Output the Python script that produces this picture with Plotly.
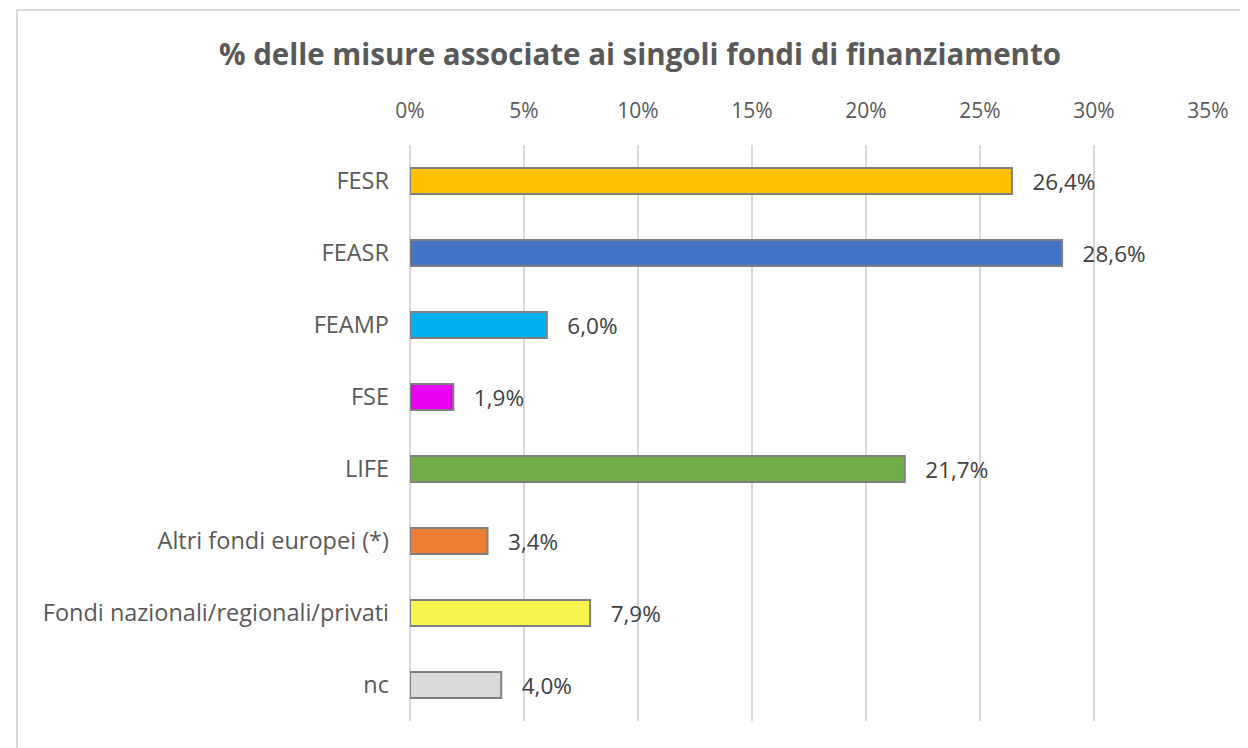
import plotly.graph_objects as go

categories = ["FESR", "FEASR", "FEAMP", "FSE", "LIFE", "Altri fondi europei (*)",
              "Fondi nazionali/regionali/privati", "nc"]
values = [0.264, 0.286, 0.060, 0.019, 0.217, 0.034, 0.079, 0.040]
colors = ["#FFC000", "#4472C4", "#00B0F0", "#E800F0", "#70AD47", "#ED7D31", "#F4F44C", "#D9D9D9"]
tick_vals = [0, 0.05, 0.10, 0.15, 0.20, 0.25, 0.30, 0.35]
tick_text = ["0%", "5%", "10%", "15%", "20%", "25%", "30%", "35%"]

labels = ["\u00a0\u00a0\u00a0" + f"{v*100:.1f}%".replace(".", ",") for v in values]

FONT = "'Open Sans', Lato, sans-serif"
GRAY = "#595959"

fig = go.Figure(go.Bar(
    x=values, y=categories, orientation="h",
    marker=dict(color=colors, line=dict(color="#7F7F7F", width=2)),
    text=labels, textposition="outside", cliponaxis=False, constraintext="none",
    textfont=dict(family=FONT, size=22.5, color="#404040"),
    width=0.36,
))

W, H = 1248, 748
L, R, T, B = 402, 48, 137, 35
pw, ph = W - L - R, H - T - B

fig.update_layout(
    width=W, height=H,
    margin=dict(l=L, r=R, t=T, b=B),
    paper_bgcolor="white", plot_bgcolor="white",
    showlegend=False,
    title=dict(text="<b>% delle misure associate ai singoli fondi di finanziamento</b>",
               x=632 / W, xanchor="center", y=1 - 47 / H, yanchor="middle",
               font=dict(family=FONT, size=29.5, color=GRAY)),
    xaxis=dict(side="top", range=[0, 0.35], tickvals=tick_vals, ticktext=tick_text,
               showgrid=True, gridcolor="#D9D9D9", gridwidth=1.5,
               zeroline=True, zerolinecolor="#D9D9D9", zerolinewidth=1.5,
               showline=False, ticks="", ticklabelstandoff=22,
               tickfont=dict(family=FONT, size=21, color=GRAY)),
    yaxis=dict(autorange="reversed", showgrid=False, zeroline=False, showline=False,
               ticks="", ticklabelstandoff=20,
               tickfont=dict(family=FONT, size=23.5, color=GRAY)),
    shapes=[dict(type="rect", xref="paper", yref="paper",
                 x0=(9 - L) / pw, x1=(W + 5 - L) / pw,
                 y0=(H - B - (H + 5)) / ph, y1=(H - B - 2) / ph,
                 line=dict(color="#D9D9D9", width=2), fillcolor="rgba(0,0,0,0)", layer="below")],
)

fig.write_html("out.html")
